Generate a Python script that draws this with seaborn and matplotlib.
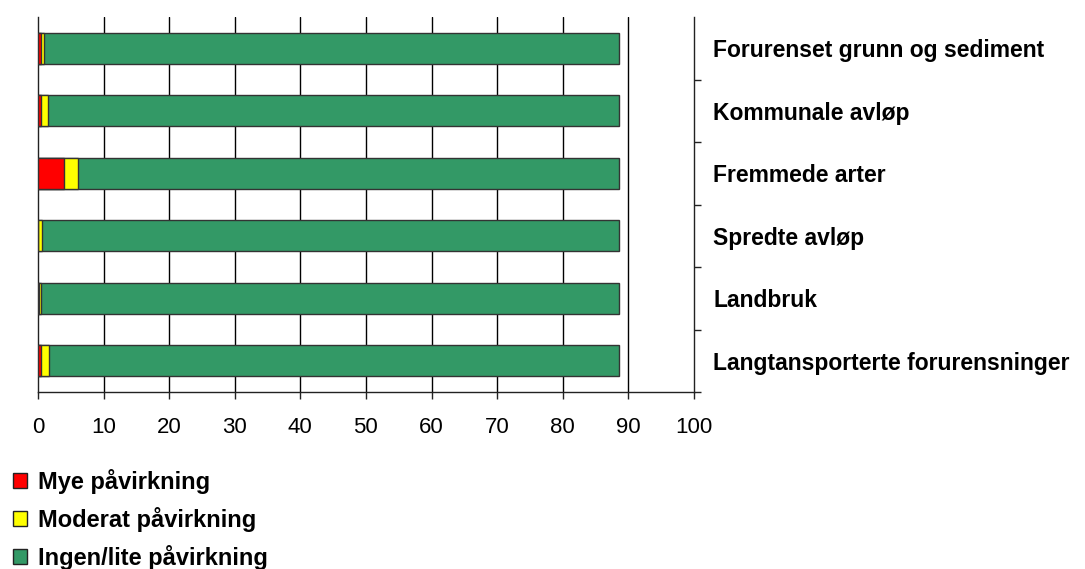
import numpy as np
import pandas as pd
import matplotlib
matplotlib.use("Agg")
import matplotlib.pyplot as plt
from matplotlib.patches import Patch
import seaborn as sns

# data
categories = ["Forurenset grunn og sediment", "Kommunale avløp", "Fremmede arter",
              "Spredte avløp", "Landbruk", "Langtansporterte forurensninger"]
mye = [0.5, 0.5, 4.0, 0.0, 0.2, 0.5]
moderat = [0.4, 1.0, 2.1, 0.6, 0.2, 1.2]
ingen = [87.7, 87.1, 82.5, 88.0, 88.2, 86.9]
series_names = ["Mye påvirkning", "Moderat påvirkning", "Ingen/lite påvirkning"]
colors = ["#FF0000", "#FFFF00", "#339966"]

sns.set_style("white")
plt.rcParams['font.family'] = ['Liberation Sans', 'DejaVu Sans']
plt.rcParams['text.color'] = 'black'
plt.rcParams['xtick.color'] = 'black'
plt.rcParams['ytick.color'] = 'black'

df = pd.DataFrame({"cat": categories, "mye": mye, "moderat": moderat, "ingen": ingen})
df["c1"] = df["mye"]
df["c2"] = df["c1"] + df["moderat"]
df["c3"] = df["c2"] + df["ingen"]

fig = plt.figure(figsize=(10.85, 5.69), dpi=100)
ax = fig.add_axes([0.035, 0.311, 0.6045, 0.659])

# stacked bars: draw cumulative totals back to front
for col, c in zip(["c3", "c2", "c1"], colors[::-1]):
    sns.barplot(data=df, x=col, y="cat", orient="h", color=c, width=0.5,
                edgecolor="#333333", linewidth=1, saturation=1, ax=ax, zorder=3)

ax.set_xlim(0, 100)
ax.set_ylim(5.5, -0.5)
ax.set_xticks(np.arange(0, 101, 10))
ax.set_xticklabels([str(v) for v in range(0, 101, 10)], fontsize=16)
ax.set_xlabel("")
ax.set_ylabel("")
for v in range(10, 100, 10):
    ax.axvline(v, color="black", lw=1, zorder=1)

ax.spines["top"].set_visible(False)
for s in ["left", "bottom", "right"]:
    ax.spines[s].set_color("#222222")
    ax.spines[s].set_linewidth(1)

ax.yaxis.tick_right()
ax.set_yticks(range(len(categories)))
ax.set_yticklabels(categories, fontsize=16.5, fontweight="bold")
ax.set_yticks(np.arange(0.5, len(categories), 1), minor=True)
ax.tick_params(axis="y", which="major", length=0, pad=14)
ax.tick_params(axis="y", which="minor", right=True, length=5, width=1, direction="out", color="#222222")
ax.tick_params(axis="x", length=5, width=1, direction="out", color="#222222", pad=13, bottom=True)

handles = [Patch(facecolor=c, edgecolor="#222222", linewidth=1) for c in colors]
fig.legend(handles, series_names, loc="upper left", bbox_to_anchor=(0.012, 0.176),
           frameon=False, prop={"size": 17, "weight": "bold"},
           handlelength=0.6, handleheight=0.6, handletextpad=0.45, labelspacing=0.55,
           borderpad=0, borderaxespad=0)

fig.savefig("out.png", dpi=100, facecolor="white")
